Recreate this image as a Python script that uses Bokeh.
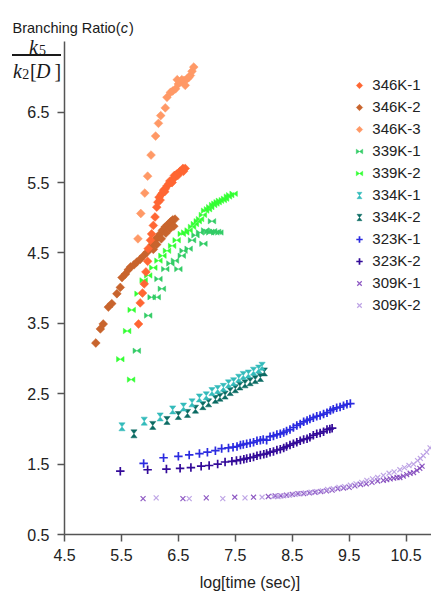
import numpy as np
from bokeh.plotting import figure
from bokeh.models import (ColumnDataSource, FixedTicker, Legend, LegendItem, Label, BoxAnnotation, CustomJS)
from bokeh.embed import file_html
from bokeh.resources import INLINE

# ---------------- data ----------------
series_names = ["346K-1", "346K-2", "346K-3", "339K-1", "339K-2", "334K-1", "334K-2",
                "323K-1", "323K-2", "309K-1", "309K-2"]

x_346_1 = [5.80, 5.83, 5.87, 5.90, 5.93, 5.96, 5.97, 6.01, 6.03, 6.06, 6.09, 6.12, 6.14, 6.16, 6.18,
           6.20, 6.22, 6.24, 6.26, 6.27, 6.30, 6.33, 6.35, 6.37, 6.39, 6.41, 6.43, 6.44, 6.47, 6.49,
           6.51, 6.53, 6.56, 6.58, 6.59, 6.62]
y_346_1 = [3.49, 3.79, 3.93, 4.06, 4.23, 4.38, 4.56, 4.68, 4.77, 4.89, 5.01, 5.15, 5.22, 5.29, 5.25,
           5.33, 5.35, 5.39, 5.37, 5.41, 5.45, 5.48, 5.52, 5.50, 5.50, 5.55, 5.60, 5.58, 5.62, 5.60,
           5.64, 5.66, 5.67, 5.70, 5.66, 5.70]

x_346_2 = [5.05, 5.13, 5.18, 5.27, 5.33, 5.42, 5.48, 5.51, 5.57, 5.62, 5.66, 5.72, 5.77, 5.83, 5.89,
           5.95, 6.00, 6.04, 6.09, 6.13, 6.18, 6.22, 6.27, 6.31, 6.36, 6.40, 6.44, 6.42, 6.35, 6.28,
           6.20, 6.12, 6.06]
y_346_2 = [3.22, 3.42, 3.49, 3.73, 3.78, 3.92, 4.01, 4.15, 4.20, 4.26, 4.30, 4.33, 4.37, 4.41, 4.46,
           4.51, 4.56, 4.62, 4.68, 4.72, 4.77, 4.82, 4.87, 4.90, 4.94, 4.97, 4.98, 4.88, 4.84, 4.78,
           4.70, 4.62, 4.55]

x_346_3 = [5.79, 5.84, 5.91, 5.96, 6.02, 6.10, 6.15, 6.19, 6.27, 6.30, 6.36, 6.40, 6.45, 6.48, 6.50,
           6.53, 6.56, 6.60, 6.62, 6.65, 6.68, 6.71, 6.74, 6.77]
y_346_3 = [4.70, 5.06, 5.35, 5.59, 5.89, 6.16, 6.34, 6.45, 6.56, 6.71, 6.78, 6.80, 6.83, 6.96, 6.90,
           6.93, 6.96, 6.95, 6.88, 6.97, 6.99, 7.02, 7.08, 7.14]

x_339_1 = [5.77, 5.97, 6.03, 6.12, 6.15, 6.21, 6.27, 6.36, 6.44, 6.50, 6.56, 6.59, 6.68, 6.74, 6.80,
           6.88, 6.94, 6.97, 7.02, 7.06, 7.09, 7.11, 7.15, 7.18, 7.22]
y_339_1 = [3.11, 3.61, 3.87, 3.87, 4.13, 3.99, 4.27, 4.35, 4.39, 4.27, 4.46, 4.53, 4.56, 4.68, 4.75,
           4.79, 4.63, 4.82, 4.80, 4.79, 4.95, 4.81, 4.79, 4.80, 4.79]

x_339_2 = [5.67, 5.48, 5.60, 5.68, 5.80, 5.89, 5.97, 6.06, 6.15, 6.22, 6.30, 6.39, 6.47, 6.56, 6.62,
           6.68, 6.74, 6.79, 6.84, 6.88, 6.93, 6.97, 7.02, 7.06, 7.11, 7.15, 7.19, 7.23, 7.28, 7.32,
           7.37, 7.41, 7.47]
y_339_2 = [2.70, 2.99, 3.39, 3.69, 3.92, 4.11, 4.18, 4.29, 4.39, 4.46, 4.53, 4.60, 4.68, 4.77, 4.79,
           4.82, 4.87, 4.91, 4.95, 4.98, 5.04, 5.10, 5.12, 5.15, 5.18, 5.20, 5.22, 5.24, 5.25, 5.27,
           5.30, 5.32, 5.34]

x_334_1 = [5.51, 5.90, 6.18, 6.40, 6.59, 6.74, 6.87, 6.99, 7.09, 7.19, 7.29, 7.38, 7.47, 7.56, 7.64,
           7.73, 7.82, 7.91, 7.97]
y_334_1 = [2.03, 2.11, 2.17, 2.27, 2.31, 2.37, 2.44, 2.47, 2.53, 2.56, 2.59, 2.64, 2.67, 2.72, 2.76,
           2.78, 2.82, 2.85, 2.89]

x_334_2 = [5.72, 6.05, 6.30, 6.50, 6.66, 6.80, 6.93, 7.03, 7.15, 7.23, 7.32, 7.41, 7.50, 7.58, 7.67,
           7.76, 7.85, 7.94, 8.01]
y_334_2 = [1.93, 2.05, 2.12, 2.19, 2.22, 2.28, 2.33, 2.37, 2.42, 2.45, 2.48, 2.53, 2.57, 2.61, 2.64,
           2.67, 2.70, 2.73, 2.81]

x_323_1 = [5.89, 6.24, 6.50, 6.69, 6.87, 7.01, 7.15, 7.26, 7.38, 7.46, 7.53, 7.59, 7.64, 7.70, 7.76,
           7.82, 7.88, 7.94, 7.99, 8.05, 8.11, 8.17, 8.23, 8.29, 8.35, 8.40, 8.46, 8.52, 8.58, 8.64,
           8.70, 8.76, 8.81, 8.87, 8.93, 8.99, 9.05, 9.11, 9.17, 9.22, 9.28, 9.34, 9.40, 9.46, 9.52]
y_323_1 = [1.51, 1.59, 1.61, 1.63, 1.65, 1.67, 1.69, 1.72, 1.73, 1.74, 1.75, 1.77, 1.78, 1.79, 1.80,
           1.81, 1.83, 1.84, 1.85, 1.84, 1.89, 1.90, 1.92, 1.93, 1.95, 1.97, 1.99, 2.02, 2.05, 2.07,
           2.10, 2.12, 2.14, 2.16, 2.18, 2.19, 2.21, 2.23, 2.26, 2.28, 2.30, 2.31, 2.33, 2.35, 2.36]

x_323_2 = [5.48, 5.96, 6.29, 6.53, 6.72, 6.90, 7.04, 7.19, 7.32, 7.44, 7.52, 7.59, 7.65, 7.70, 7.76,
           7.82, 7.88, 7.94, 8.00, 8.05, 8.11, 8.17, 8.23, 8.29, 8.35, 8.40, 8.46, 8.52, 8.58, 8.64,
           8.70, 8.76, 8.81, 8.87, 8.93, 8.99, 9.05, 9.11, 9.16, 9.20]
y_323_2 = [1.40, 1.42, 1.43, 1.44, 1.45, 1.47, 1.48, 1.50, 1.53, 1.54, 1.55, 1.56, 1.57, 1.58, 1.59,
           1.60, 1.62, 1.63, 1.64, 1.65, 1.67, 1.68, 1.70, 1.71, 1.73, 1.75, 1.77, 1.79, 1.81, 1.83,
           1.85, 1.86, 1.88, 1.91, 1.93, 1.94, 1.96, 1.99, 2.00, 2.01]

x_309_1 = [5.88, 6.58, 6.99, 7.49, 7.82, 8.08, 8.20, 8.30, 8.40, 8.50, 8.60, 8.70, 8.80, 8.90, 9.00,
           9.10, 9.20, 9.30, 9.40, 9.50, 9.60, 9.70, 9.80, 9.90, 10.00, 10.10, 10.16, 10.22, 10.28,
           10.34, 10.39, 10.45, 10.51, 10.57, 10.63, 10.69, 10.74, 10.78]
y_309_1 = [1.01, 1.01, 1.02, 1.03, 1.03, 1.04, 1.05, 1.05, 1.06, 1.07, 1.08, 1.08, 1.09, 1.10, 1.11,
           1.12, 1.13, 1.15, 1.16, 1.17, 1.19, 1.21, 1.22, 1.24, 1.26, 1.27, 1.28, 1.29, 1.30,
           1.31, 1.31, 1.33, 1.35, 1.37, 1.38, 1.41, 1.44, 1.47]

x_309_2 = [6.11, 6.69, 7.28, 7.67, 7.97, 8.17, 8.25, 8.35, 8.45, 8.55, 8.64, 8.73, 8.83, 8.93, 9.03,
           9.12, 9.22, 9.32, 9.42, 9.52, 9.62, 9.72, 9.81, 9.91, 10.00, 10.10, 10.20, 10.29, 10.39,
           10.47, 10.55, 10.63, 10.70, 10.75, 10.80, 10.86, 10.92, 10.98]
y_309_2 = [1.02, 1.01, 1.01, 1.02, 1.03, 1.04, 1.04, 1.05, 1.06, 1.07, 1.08, 1.09, 1.10, 1.11, 1.12,
           1.14, 1.15, 1.17, 1.18, 1.20, 1.22, 1.24, 1.27, 1.29, 1.31, 1.34, 1.37, 1.39, 1.42,
           1.45, 1.48, 1.50, 1.55, 1.58, 1.62, 1.67, 1.73, 1.79]

x_ticks = [4.5, 5.5, 6.5, 7.5, 8.5, 9.5, 10.5]
y_ticks = [0.5, 1.5, 2.5, 3.5, 4.5, 5.5, 6.5]

colors = {"346K-1": "#ff6633", "346K-2": "#c8642d", "346K-3": "#ff9966",
          "339K-1": "#33cc66", "339K-2": "#33ff33", "334K-1": "#33bbbb", "334K-2": "#0b6b63",
          "323K-1": "#2b2be0", "323K-2": "#330a99", "309K-1": "#7a3cb8", "309K-2": "#b394e0"}

# ---------------- layout constants ----------------
W, H = 431, 593
YAX, XAX = 64, 534                 # page pixels of the y axis (x=4.5) and the x axis (y=0.5)
SX, SY = 56.94, 70.4               # pixels per unit
X0, X1 = 4.5 - YAX / SX, 4.5 + (W - YAX) / SX
Y0, Y1 = 0.5 - (H - XAX) / SY, 0.5 + XAX / SY

p = figure(width=W, height=H, x_range=(X0, X1), y_range=(Y0, Y1), title=None,
           min_border_left=0, min_border_right=0, min_border_top=0, min_border_bottom=0,
           output_backend="svg", toolbar_location=None)
p.xgrid.visible = False
p.ygrid.visible = False
p.outline_line_color = None
p.background_fill_color = "white"
p.border_fill_color = "white"

for ax in (p.xaxis[0], p.yaxis[0]):
    ax.axis_line_color = "#555555"
    ax.axis_line_width = 1.5
    ax.major_tick_line_color = "#555555"
    ax.major_tick_line_width = 1.5
    ax.major_tick_out = 7
    ax.major_tick_in = 0
    ax.minor_tick_line_color = None
    ax.major_label_text_font = "Liberation Sans"
    ax.major_label_text_font_size = "16px"
    ax.major_label_text_color = "#222222"
p.xaxis.ticker = FixedTicker(ticks=x_ticks)
p.yaxis.ticker = FixedTicker(ticks=y_ticks)
p.yaxis.bounds = (0.5, 7.5)
p.yaxis.fixed_location = 4.5
p.xaxis.bounds = (4.5, X1)
p.xaxis.fixed_location = 0.5
p.yaxis.major_label_standoff = 8
p.xaxis.major_label_standoff = 7

# custom marker shapes (drawn in marker-local pixel coordinates)
BOWTIE = CustomJS(code="""
const {ctx, i, r, visuals} = cb_data;
const h = 0.72 * r;
ctx.beginPath();
ctx.moveTo(-r, -h); ctx.lineTo(0, 0); ctx.lineTo(-r, h); ctx.closePath();
ctx.moveTo(r, -h); ctx.lineTo(0, 0); ctx.lineTo(r, h); ctx.closePath();
visuals.fill.apply(ctx, i);
visuals.line.apply(ctx, i);
""")
HOURGLASS = CustomJS(code="""
const {ctx, i, r, visuals} = cb_data;
const w = 0.78 * r;
ctx.beginPath();
ctx.moveTo(-w, -r); ctx.lineTo(w, -r); ctx.lineTo(0, 0); ctx.closePath();
ctx.moveTo(-w, r); ctx.lineTo(w, r); ctx.lineTo(0, 0); ctx.closePath();
visuals.fill.apply(ctx, i);
visuals.line.apply(ctx, i);
""")
DIAMOND = CustomJS(code="""
const {ctx, i, r, visuals} = cb_data;
ctx.beginPath();
ctx.moveTo(0, -r); ctx.lineTo(r, 0); ctx.lineTo(0, r); ctx.lineTo(-r, 0); ctx.closePath();
visuals.fill.apply(ctx, i);
visuals.line.apply(ctx, i);
""")
DEFS = {"@bowtie": BOWTIE, "@hourglass": HOURGLASS, "@diamond": DIAMOND}

renderers = {}

def custom(name, xs, ys, marker, size):
    src = ColumnDataSource(dict(x=xs, y=ys))
    r = p.scatter("x", "y", source=src, marker=marker, size=size, defs=DEFS,
                  fill_color=colors[name], line_color=colors[name], line_width=0.5)
    renderers[name] = [r]

def crosses(name, xs, ys):
    src = ColumnDataSource(dict(x=xs, y=ys))
    r = p.scatter("x", "y", source=src, marker="cross", size=8.5, line_color=colors[name], line_width=1.7)
    renderers[name] = [r]

def xs_marks(name, xs, ys):
    src = ColumnDataSource(dict(x=xs, y=ys))
    r = p.scatter("x", "y", source=src, marker="x", size=7, line_color=colors[name], line_width=1.2,
                  line_alpha=0.85)
    renderers[name] = [r]

xs_marks("309K-1", x_309_1, y_309_1)
xs_marks("309K-2", x_309_2, y_309_2)
crosses("323K-2", x_323_2, y_323_2)
crosses("323K-1", x_323_1, y_323_1)
custom("334K-2", x_334_2, y_334_2, "@hourglass", 8)
custom("334K-1", x_334_1, y_334_1, "@hourglass", 8)
custom("339K-1", x_339_1, y_339_1, "@bowtie", 7.5)
custom("339K-2", x_339_2, y_339_2, "@bowtie", 7.5)
custom("346K-2", x_346_2, y_346_2, "@diamond", 8.8)
custom("346K-1", x_346_1, y_346_1, "@diamond", 8.8)
custom("346K-3", x_346_3, y_346_3, "@diamond", 8.8)

items = [LegendItem(label=n, renderers=renderers[n]) for n in series_names]
legend = Legend(items=items, location=(351.3, H - 314.7), orientation="vertical",
                glyph_width=16, glyph_height=20, label_height=20, spacing=2, padding=0, margin=0,
                label_standoff=5, border_line_color=None, background_fill_alpha=0,
                label_text_font="Liberation Sans", label_text_font_size="15px",
                label_text_color="#222222")
p.add_layout(legend)

# texts placed in screen pixels relative to the frame (which fills the page)
def lab(text, px, py, size, style="normal", font="Liberation Sans", align="left", color="#1a1a1a"):
    p.add_layout(Label(x=px, y=H - py, x_units="screen", y_units="screen", text=text,
                       text_font=font, text_font_size=size, text_font_style=style,
                       text_baseline="alphabetic", text_align=align, text_color=color))

lab("Branching Ratio(", 12, 27.5, "14.5px")
lab("c", 120.3, 27.5, "14.5px", "italic")
lab(")", 128.5, 27.5, "14.5px")

lab("k", 28.5, 46.5, "20px", "italic", "Liberation Serif")
lab("5", 38.5, 49.5, "14px", "normal", "Liberation Serif")
p.add_layout(BoxAnnotation(left=11.5, right=60.5, top=H - 53.4, bottom=H - 55.4,
                           left_units="screen", right_units="screen",
                           top_units="screen", bottom_units="screen",
                           fill_color="#1a1a1a", fill_alpha=1.0, line_color=None))
lab("k", 12.5, 70.5, "20px", "italic", "Liberation Serif")
lab("2", 21.8, 73.5, "14px", "normal", "Liberation Serif")
lab("[", 29.5, 70.5, "20px", "normal", "Liberation Serif")
lab("D", 35.5, 70.5, "20px", "italic", "Liberation Serif")
lab("]", 54.0, 70.5, "20px", "normal", "Liberation Serif")

# x-axis title, centred under the bounded x axis
lab("log[time (sec)]", 249.5, 582, "16px", align="center", color="#222222")

open("out.html", "w").write(file_html(p, INLINE))
